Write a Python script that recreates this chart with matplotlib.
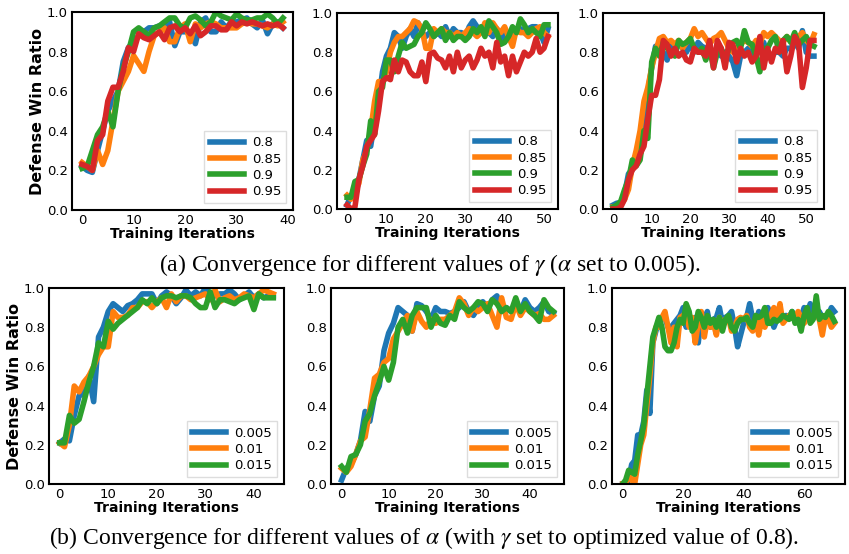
import numpy as np
import matplotlib
matplotlib.use("Agg")
import matplotlib.pyplot as plt

# ---- data ----
gamma_labels = ["0.8", "0.85", "0.9", "0.95"]
alpha_labels = ["0.005", "0.01", "0.015"]

# (a) left panel, gamma sweep
a1_08 = [0.22, 0.2, 0.19, 0.3, 0.4, 0.5, 0.55, 0.6, 0.75, 0.82, 0.85, 0.88, 0.9, 0.92, 0.92, 0.93, 0.93, 0.95, 0.83, 0.9,
         0.9, 0.9, 0.84, 0.95, 0.97, 0.9, 0.9, 0.95, 0.92, 0.95, 0.95, 0.96, 0.97, 0.94, 0.92, 0.96, 0.89, 0.94, 0.95, 0.92]
a1_085 = [0.24, 0.22, 0.2, 0.3, 0.23, 0.3, 0.45, 0.6, 0.65, 0.7, 0.78, 0.74, 0.7, 0.8, 0.88, 0.9, 0.92, 0.85, 0.85, 0.92,
          0.94, 0.85, 0.94, 0.92, 0.94, 0.95, 0.94, 0.92, 0.92, 0.92, 0.92, 0.94, 0.95, 0.94, 0.94, 0.93, 0.92, 0.94, 0.93, 0.95]
a1_09 = [0.21, 0.22, 0.3, 0.38, 0.42, 0.5, 0.42, 0.6, 0.72, 0.8, 0.9, 0.92, 0.9, 0.88, 0.92, 0.93, 0.95, 0.97, 0.97, 0.93,
         0.92, 0.97, 0.98, 0.96, 0.93, 0.95, 1.0, 0.98, 0.97, 0.96, 0.99, 0.97, 0.96, 0.96, 0.97, 0.97, 0.99, 0.97, 0.94, 0.97]
a1_095 = [0.23, 0.22, 0.2, 0.35, 0.38, 0.55, 0.62, 0.62, 0.7, 0.82, 0.8, 0.89, 0.87, 0.86, 0.88, 0.9, 0.86, 0.92, 0.93, 0.9,
          0.92, 0.89, 0.93, 0.88, 0.9, 0.93, 0.93, 0.91, 0.91, 0.95, 0.93, 0.95, 0.94, 0.95, 0.94, 0.93, 0.94, 0.93, 0.94, 0.92]

# (a) middle panel
a2_08 = [0.02, 0.07, 0.05, 0.15, 0.25, 0.35, 0.32, 0.45, 0.55, 0.7, 0.78, 0.82, 0.9, 0.88, 0.82, 0.88, 0.92, 0.88, 0.95, 0.9,
         0.88, 0.9, 0.88, 0.9, 0.88, 0.93, 0.88, 0.92, 0.9, 0.9, 0.88, 0.93, 0.96, 0.93, 0.9, 0.92, 0.9, 0.88, 0.92, 0.86,
         0.9, 0.88, 0.88, 0.9, 0.92, 0.9, 0.92, 0.93, 0.93, 0.9, 0.85, 0.92]
a2_085 = [0.07, 0.05, 0.1, 0.13, 0.25, 0.3, 0.4, 0.55, 0.65, 0.65, 0.7, 0.8, 0.85, 0.88, 0.88, 0.9, 0.92, 0.96, 0.95, 0.92,
          0.82, 0.82, 0.92, 0.9, 0.92, 0.9, 0.9, 0.88, 0.9, 0.88, 0.9, 0.92, 0.9, 0.88, 0.9, 0.95, 0.9, 0.95, 0.92, 0.9,
          0.93, 0.88, 0.83, 0.92, 0.9, 0.9, 0.88, 0.9, 0.92, 0.93, 0.9, 0.88]
a2_09 = [0.06, 0.06, 0.14, 0.15, 0.22, 0.28, 0.45, 0.38, 0.6, 0.62, 0.76, 0.76, 0.7, 0.78, 0.85, 0.82, 0.83, 0.84, 0.88, 0.9,
         0.95, 0.92, 0.88, 0.9, 0.92, 0.86, 0.9, 0.86, 0.88, 0.88, 0.86, 0.88, 0.92, 0.9, 0.93, 0.88, 0.96, 0.93, 0.9, 0.84,
         0.85, 0.88, 0.93, 0.9, 0.97, 0.94, 0.9, 0.92, 0.9, 0.88, 0.94, 0.94]
a2_095 = [0.02, 0.0, 0.01, 0.15, 0.22, 0.32, 0.35, 0.38, 0.5, 0.65, 0.67, 0.66, 0.76, 0.7, 0.76, 0.75, 0.7, 0.68, 0.68, 0.75,
          0.65, 0.79, 0.8, 0.77, 0.76, 0.72, 0.78, 0.7, 0.8, 0.72, 0.76, 0.78, 0.72, 0.76, 0.82, 0.78, 0.8, 0.72, 0.85, 0.75,
          0.78, 0.68, 0.78, 0.7, 0.75, 0.8, 0.78, 0.8, 0.87, 0.8, 0.82, 0.88]

# (a) right panel
a3_08 = [0.02, 0.03, 0.03, 0.08, 0.18, 0.2, 0.25, 0.3, 0.45, 0.6, 0.72, 0.83, 0.8, 0.8, 0.76, 0.85, 0.82, 0.85, 0.82, 0.8,
         0.84, 0.8, 0.85, 0.83, 0.82, 0.78, 0.8, 0.82, 0.78, 0.8, 0.78, 0.75, 0.68, 0.78, 0.8, 0.82, 0.78, 0.78, 0.82, 0.85,
         0.78, 0.78, 0.8, 0.8, 0.78, 0.82, 0.82, 0.85, 0.82, 0.91, 0.8, 0.78, 0.78]
a3_085 = [0.01, 0.01, 0.02, 0.05, 0.1, 0.22, 0.3, 0.4, 0.55, 0.62, 0.72, 0.8, 0.87, 0.88, 0.85, 0.86, 0.84, 0.86, 0.82, 0.85,
          0.87, 0.92, 0.88, 0.9, 0.87, 0.84, 0.87, 0.88, 0.9, 0.86, 0.82, 0.8, 0.82, 0.84, 0.86, 0.85, 0.83, 0.86, 0.84, 0.9,
          0.88, 0.9, 0.88, 0.86, 0.85, 0.88, 0.86, 0.85, 0.88, 0.9, 0.86, 0.84, 0.89]
a3_09 = [0.01, 0.02, 0.04, 0.1, 0.15, 0.25, 0.22, 0.25, 0.4, 0.36, 0.75, 0.82, 0.78, 0.85, 0.82, 0.8, 0.78, 0.86, 0.84, 0.85,
         0.87, 0.82, 0.8, 0.82, 0.76, 0.82, 0.72, 0.8, 0.82, 0.76, 0.82, 0.85, 0.86, 0.82, 0.91, 0.85, 0.84, 0.78, 0.7, 0.82,
         0.82, 0.86, 0.88, 0.8, 0.86, 0.88, 0.85, 0.9, 0.84, 0.86, 0.88, 0.84, 0.83]
a3_095 = [0.0, 0.0, 0.01, 0.05, 0.15, 0.2, 0.22, 0.28, 0.32, 0.46, 0.58, 0.58, 0.66, 0.86, 0.84, 0.78, 0.82, 0.78, 0.8, 0.76,
          0.75, 0.82, 0.8, 0.8, 0.78, 0.86, 0.72, 0.86, 0.82, 0.72, 0.85, 0.84, 0.75, 0.82, 0.78, 0.8, 0.75, 0.78, 0.88, 0.72,
          0.82, 0.75, 0.82, 0.8, 0.86, 0.7, 0.78, 0.88, 0.85, 0.62, 0.72, 0.86, 0.86]

# (b) left panel, alpha sweep
b1_0005 = [0.21, 0.23, 0.22, 0.35, 0.45, 0.46, 0.55, 0.42, 0.75, 0.8, 0.88, 0.92, 0.9, 0.88, 0.91, 0.92, 0.94, 0.97, 0.97, 0.97,
           0.92, 0.96, 0.98, 0.96, 0.92, 0.95, 0.99, 0.96, 0.98, 0.96, 1.0, 0.97, 0.96, 0.97, 0.97, 0.99, 0.97, 0.94, 0.96, 0.98,
           0.95, 0.97, 0.95, 0.96, 0.96]
b1_001 = [0.21, 0.19, 0.3, 0.5, 0.47, 0.52, 0.55, 0.6, 0.66, 0.7, 0.7, 0.88, 0.85, 0.85, 0.86, 0.9, 0.9, 0.93, 0.93, 0.9,
          0.93, 0.95, 0.9, 0.97, 0.93, 0.96, 0.96, 0.94, 0.95, 0.96, 0.97, 0.94, 0.99, 0.93, 0.95, 0.96, 0.94, 0.95, 0.97, 0.96,
          0.95, 0.97, 0.99, 0.98, 0.97]
b1_0015 = [0.21, 0.21, 0.35, 0.31, 0.33, 0.42, 0.52, 0.6, 0.72, 0.7, 0.83, 0.79, 0.82, 0.84, 0.86, 0.88, 0.9, 0.94, 0.92, 0.95,
           0.92, 0.95, 0.96, 0.96, 0.95, 0.96, 0.96, 0.95, 0.92, 0.9, 0.9, 0.98, 0.9, 0.94, 0.94, 0.93, 0.92, 0.94, 0.95, 0.96,
           0.89, 0.97, 0.95, 0.95, 0.95]

# (b) middle panel
b2_0005 = [0.02, 0.08, 0.1, 0.15, 0.22, 0.37, 0.32, 0.45, 0.5, 0.68, 0.77, 0.82, 0.9, 0.88, 0.86, 0.78, 0.92, 0.91, 0.88, 0.84,
           0.9, 0.88, 0.88, 0.87, 0.88, 0.9, 0.93, 0.88, 0.86, 0.9, 0.93, 0.9, 0.94, 0.96, 0.88, 0.9, 0.88, 0.92, 0.88, 0.94,
           0.9, 0.88, 0.9, 0.93, 0.88, 0.87]
b2_001 = [0.08, 0.06, 0.09, 0.15, 0.22, 0.24, 0.38, 0.54, 0.56, 0.62, 0.64, 0.74, 0.78, 0.82, 0.86, 0.78, 0.88, 0.83, 0.8, 0.84,
          0.82, 0.84, 0.84, 0.86, 0.88, 0.95, 0.92, 0.86, 0.9, 0.88, 0.9, 0.92, 0.86, 0.8, 0.95, 0.85, 0.84, 0.92, 0.86, 0.9,
          0.88, 0.86, 0.87, 0.84, 0.84, 0.86]
b2_0015 = [0.09, 0.06, 0.14, 0.15, 0.2, 0.32, 0.36, 0.45, 0.52, 0.6, 0.53, 0.62, 0.8, 0.84, 0.77, 0.86, 0.9, 0.9, 0.9, 0.8,
           0.86, 0.82, 0.81, 0.86, 0.84, 0.93, 0.9, 0.88, 0.9, 0.93, 0.92, 0.88, 0.94, 0.92, 0.88, 0.9, 0.88, 0.95, 0.88, 0.92,
           0.88, 0.86, 0.83, 0.94, 0.9, 0.88]

# (b) right panel
b3_0005 = [0.0, 0.0, 0.02, 0.1, 0.12, 0.25, 0.25, 0.32, 0.48, 0.36, 0.72, 0.78, 0.84, 0.85, 0.85, 0.8, 0.8, 0.82, 0.84, 0.86,
           0.9, 0.8, 0.86, 0.8, 0.85, 0.72, 0.86, 0.84, 0.88, 0.8, 0.84, 0.85, 0.9, 0.82, 0.85, 0.86, 0.88, 0.8, 0.7, 0.76,
           0.82, 0.85, 0.92, 0.84, 0.8, 0.88, 0.86, 0.88, 0.9, 0.86, 0.8, 0.84, 0.85, 0.84, 0.86, 0.85, 0.88, 0.84, 0.86, 0.85,
           0.9, 0.86, 0.92, 0.85, 0.86, 0.88, 0.85, 0.86, 0.86, 0.9, 0.88]
b3_001 = [0.0, 0.0, 0.05, 0.02, 0.0, 0.1, 0.2, 0.25, 0.4, 0.55, 0.72, 0.8, 0.8, 0.85, 0.88, 0.8, 0.72, 0.8, 0.7, 0.85,
          0.86, 0.88, 0.8, 0.85, 0.72, 0.82, 0.88, 0.75, 0.84, 0.8, 0.82, 0.76, 0.85, 0.8, 0.84, 0.85, 0.78, 0.8, 0.84, 0.85,
          0.84, 0.86, 0.8, 0.78, 0.84, 0.76, 0.85, 0.8, 0.84, 0.86, 0.9, 0.84, 0.92, 0.82, 0.84, 0.86, 0.85, 0.84, 0.88, 0.85,
          0.82, 0.85, 0.84, 0.86, 0.88, 0.84, 0.76, 0.85, 0.84, 0.8, 0.82]
b3_0015 = [0.0, 0.02, 0.07, 0.06, 0.05, 0.15, 0.22, 0.3, 0.45, 0.6, 0.75, 0.8, 0.85, 0.8, 0.7, 0.68, 0.68, 0.72, 0.8, 0.84,
           0.82, 0.92, 0.88, 0.78, 0.8, 0.88, 0.85, 0.8, 0.86, 0.82, 0.84, 0.8, 0.85, 0.78, 0.84, 0.86, 0.8, 0.78, 0.82, 0.84,
           0.84, 0.85, 0.82, 0.8, 0.86, 0.85, 0.86, 0.9, 0.82, 0.82, 0.84, 0.83, 0.84, 0.86, 0.85, 0.84, 0.88, 0.82, 0.84, 0.78,
           0.86, 0.9, 0.82, 0.84, 0.96, 0.84, 0.86, 0.85, 0.88, 0.86, 0.83]

caption_a = r"(a) Convergence for different values of $\gamma$ ($\alpha$ set to 0.005)."
caption_b = r"(b) Convergence for different values of $\alpha$ (with $\gamma$ set to optimized value of 0.8)."

colors = ["tab:blue", "tab:orange", "tab:green", "tab:red"]

plt.rcParams['font.family'] = 'DejaVu Sans'
plt.rcParams['mathtext.fontset'] = 'stix'

W, H = 849, 554
fig = plt.figure(figsize=(W / 100, H / 100), dpi=100)


def px_axes(x0, y0, x1, y1):
    # pixel box (left, top, right, bottom) -> figure fraction
    return fig.add_axes([x0 / W, 1 - y1 / H, (x1 - x0) / W, (y1 - y0) / H])


def draw_panel(ax, series, labels, xticks, ylabel=False):
    for ys, lab, c in zip(series, labels, colors):
        ax.plot(np.arange(len(ys)), ys, color=c, lw=4, label=lab)
    ax.set_ylim(0, 1.0)
    ax.set_xticks(xticks)
    ax.set_yticks([0, 0.2, 0.4, 0.6, 0.8, 1.0])
    ax.tick_params(length=0, pad=3, labelsize=9.5)
    for s in ax.spines.values():
        s.set_linewidth(1.5)
        s.set_color("black")
    ax.set_xlabel("Training Iterations", fontsize=10, fontweight="bold", labelpad=0)
    if ylabel:
        ax.set_ylabel("Defense Win Ratio", fontsize=11.5, fontweight="bold", labelpad=1)
    leg = ax.legend(loc="lower right", fontsize=9.5, handlelength=2.6, borderpad=0.4,
                    labelspacing=0.25, handletextpad=0.6, fancybox=False, framealpha=1)
    leg.get_frame().set_edgecolor("#dddddd")


ax = px_axes(72, 12, 293, 210)
draw_panel(ax, [a1_08, a1_085, a1_09, a1_095], gamma_labels, [0, 10, 20, 30, 40], ylabel=True)
ax = px_axes(337, 13, 558, 209)
draw_panel(ax, [a2_08, a2_085, a2_09, a2_095], gamma_labels, [0, 10, 20, 30, 40, 50])
ax = px_axes(603, 13, 824, 209)
draw_panel(ax, [a3_08, a3_085, a3_09, a3_095], gamma_labels, [0, 10, 20, 30, 40, 50])

ax = px_axes(49, 288, 284, 484)
draw_panel(ax, [b1_0005, b1_001, b1_0015], alpha_labels, [0, 10, 20, 30, 40], ylabel=True)
ax = px_axes(331, 288, 564, 484)
draw_panel(ax, [b2_0005, b2_001, b2_0015], alpha_labels, [0, 10, 20, 30, 40])
ax = px_axes(612, 288, 845, 484)
draw_panel(ax, [b3_0005, b3_001, b3_0015], alpha_labels, [0, 20, 40, 60])

fig.text(430 / W, 1 - 265 / H, caption_a, ha="center", va="center", fontsize=17,
         family="Liberation Serif")
fig.text(424 / W, 1 - 538 / H, caption_b, ha="center", va="center", fontsize=17,
         family="Liberation Serif")

fig.savefig("out.png", dpi=100)
